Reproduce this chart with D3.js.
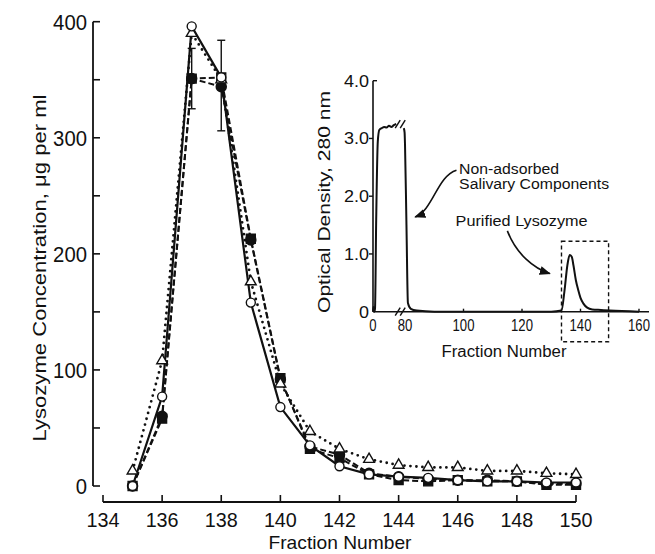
<!DOCTYPE html>
<html>
<head>
<meta charset="utf-8">
<script src="https://cdn.jsdelivr.net/npm/d3@7"></script>
<style>
  body { margin: 0; background: #fff; }
  svg { display: block; }
  text { font-family: "Liberation Sans", Arial, sans-serif; fill: #111; }
</style>
</head>
<body>
<div id="chart"></div>
<script>
// main plot: lysozyme per fraction
var fractions = [135, 136, 137, 138, 139, 140, 141, 142, 143, 144, 145, 146, 147, 148, 149, 150];
var openCircles   = [0, 77, 396, 352, 158, 68, 35, 17, 10, 8, 7, 5, 4, 4, 3, 3];
var openTriangles = [13, 108, 390, 350, 176, 88, 47, 32, 23, 18, 16, 16, 13, 13, 11, 10];
var filledCircles = [0, 60, 351, 344, 212, 92, 34, 27, 11, 8, 6, 5, 5, 4, 2, 2];
var filledSquares = [0, 58, 351, 352, 213, 93, 32, 24, 10, 5, 4, 5, 4, 4, 1, 1];

var errFractions = [137, 138];
var errLow  = [325, 306];
var errHigh = [377, 384];

var xTicks = [134, 136, 138, 140, 142, 144, 146, 148, 150];
var yTicks = [0, 100, 200, 300, 400];
var yMinorTicks = [50, 150, 250, 350];

// inset: optical density trace
var odFractions = [0, 1, 3, 5, 8, 12, 16, 22, 28, 34, 40, 46, 52, 58, 60, 77, 79, 80, 80.5, 81, 82, 84, 90, 110, 130, 133.5, 134.5, 135.5, 136.3, 137, 137.6, 138.4, 139.2, 140, 141, 142.3, 144, 147, 150, 160];
var odValues    = [0, 0.08, 0, 0.05, 1.6, 2.95, 3.15, 3.18, 3.2, 3.19, 3.22, 3.2, 3.23, 3.25, null, 3.18, 3.1, 2.9, 1.5, 0.15, 0.05, 0.02, 0, 0, 0, 0.02, 0.35, 0.8, 0.98, 0.95, 0.8, 0.55, 0.38, 0.24, 0.14, 0.07, 0.04, 0.03, 0.02, 0];
var insetXTicks = [0, 80, 100, 120, 140, 160];
var insetYTicks = [0, 1, 2, 3, 4];

var W = 655, H = 554;

var svg = d3.select("#chart").append("svg")
    .attr("width", W)
    .attr("height", H);

// text squeezed to the width it has in the figure
function label(sel, str, width){
    sel.text(str);
    if(width) sel.attr("textLength", width).attr("lengthAdjust", "spacingAndGlyphs");
    return sel;
}

var x = d3.scaleLinear().domain([134, 150]).range([103, 576]);
var y = d3.scaleLinear().domain([0, 400]).range([486, 21.7]);

// y axis (ticks point inward)
svg.append("line")
    .attr("x1", x(134) - 10).attr("x2", x(134) - 10)
    .attr("y1", y(400)).attr("y2", y(0))
    .attr("stroke", "#111").attr("stroke-width", 1.8);

svg.selectAll(".ytick")
    .data(yTicks.concat(yMinorTicks))
    .enter()
    .append("line")
    .attr("x1", x(134) - 10).attr("x2", x(134) - 3)
    .attr("y1", function(d){ return y(d); })
    .attr("y2", function(d){ return y(d); })
    .attr("stroke", "#111").attr("stroke-width", 1.6);

svg.selectAll(".ylab")
    .data(yTicks)
    .enter()
    .append("text")
    .attr("x", x(134) - 16)
    .attr("y", function(d){ return y(d) + 8; })
    .attr("text-anchor", "end")
    .style("font-size", "22px")
    .each(function(d){ label(d3.select(this), String(d), String(d).length * 11.3); });

// x axis, drawn below the plot
var xAxisY = 502;
svg.append("line")
    .attr("x1", x(134)).attr("x2", x(150))
    .attr("y1", xAxisY).attr("y2", xAxisY)
    .attr("stroke", "#111").attr("stroke-width", 1.8);

svg.selectAll(".xtick")
    .data(xTicks)
    .enter()
    .append("line")
    .attr("x1", function(d){ return x(d); })
    .attr("x2", function(d){ return x(d); })
    .attr("y1", xAxisY).attr("y2", xAxisY - 7)
    .attr("stroke", "#111").attr("stroke-width", 1.6);

svg.selectAll(".xlab")
    .data(xTicks)
    .enter()
    .append("text")
    .attr("x", function(d){ return x(d); })
    .attr("y", 527)
    .attr("text-anchor", "middle")
    .style("font-size", "21px")
    .each(function(d){ label(d3.select(this), String(d), 33); });

label(svg.append("text")
    .attr("x", 340)
    .attr("y", 549)
    .attr("text-anchor", "middle")
    .style("font-size", "19px"), "Fraction  Number", 143);

label(svg.append("text")
    .attr("transform", "translate(46,268) rotate(-90)")
    .attr("text-anchor", "middle")
    .style("font-size", "19px"), "Lysozyme  Concentration,  \u03bcg  per  ml", 347);

// series
var series = [
    {values: filledSquares, dash: "6,3", cap: "butt", width: 2},
    {values: filledCircles, dash: "6,3", cap: "butt", width: 2},
    {values: openTriangles, dash: "0,6", cap: "round", width: 2.8},
    {values: openCircles,   dash: null,  cap: "butt", width: 2.2}
];

var line = d3.line()
    .x(function(d){ return x(d[0]); })
    .y(function(d){ return y(d[1]); });

series.forEach(function(s){
    svg.append("path")
        .datum(d3.zip(fractions, s.values))
        .attr("d", line)
        .attr("fill", "none")
        .attr("stroke", "#111")
        .attr("stroke-width", s.width)
        .attr("stroke-linecap", s.cap)
        .attr("stroke-dasharray", s.dash);
});

// error bars
var errs = d3.zip(errFractions, errLow, errHigh);
var eb = svg.selectAll(".err").data(errs).enter().append("g");
eb.append("line")
    .attr("x1", function(d){ return x(d[0]); }).attr("x2", function(d){ return x(d[0]); })
    .attr("y1", function(d){ return y(d[1]); }).attr("y2", function(d){ return y(d[2]); })
    .attr("stroke", "#111").attr("stroke-width", 1.4);
[1, 2].forEach(function(k){
    eb.append("line")
        .attr("x1", function(d){ return x(d[0]) - 4; }).attr("x2", function(d){ return x(d[0]) + 4; })
        .attr("y1", function(d){ return y(d[k]); }).attr("y2", function(d){ return y(d[k]); })
        .attr("stroke", "#111").attr("stroke-width", 1.4);
});

// markers
function markers(values, type, size, fill){
    svg.selectAll(null)
        .data(d3.zip(fractions, values))
        .enter()
        .append("path")
        .attr("d", d3.symbol().type(type).size(size))
        .attr("transform", function(d){ return "translate(" + x(d[0]) + "," + y(d[1]) + ")"; })
        .attr("fill", fill)
        .attr("stroke", "#111")
        .attr("stroke-width", 1.4);
}
markers(filledSquares, d3.symbolSquare, 80, "#111");
markers(filledCircles, d3.symbolCircle, 80, "#111");
markers(openTriangles, d3.symbolTriangle, 50, "#fff");
markers(openCircles, d3.symbolCircle, 64, "#fff");

// ---- inset ----
var ix = d3.scaleLinear().domain([0, 80, 160]).range([373, 405, 639]);
var iy = d3.scaleLinear().domain([0, 4]).range([311.7, 80.7]);

svg.append("line")
    .attr("x1", ix(0)).attr("x2", ix(0))
    .attr("y1", iy(4)).attr("y2", iy(0))
    .attr("stroke", "#111").attr("stroke-width", 1.6);
svg.append("line")
    .attr("x1", ix(0)).attr("x2", ix(160) + 10)
    .attr("y1", iy(0)).attr("y2", iy(0))
    .attr("stroke", "#111").attr("stroke-width", 1.6);

svg.selectAll(".iytick")
    .data(insetYTicks.slice(1))
    .enter()
    .append("line")
    .attr("x1", function(d){ return d == 4 ? ix(0) + 4 : ix(0) - 4; })
    .attr("x2", ix(0))
    .attr("y1", function(d){ return iy(d); })
    .attr("y2", function(d){ return iy(d); })
    .attr("stroke", "#111").attr("stroke-width", 1.4);

svg.selectAll(".iylab")
    .data(insetYTicks)
    .enter()
    .append("text")
    .attr("x", ix(0) - 4)
    .attr("y", function(d){ return iy(d) + 6; })
    .attr("text-anchor", "end")
    .style("font-size", "17px")
    .each(function(d){
        var s = d == 0 ? "0" : d.toFixed(1);
        label(d3.select(this), s, d == 0 ? 10 : 25);
    });

svg.selectAll(".ixtick")
    .data(insetXTicks.slice(2))
    .enter()
    .append("line")
    .attr("x1", function(d){ return ix(d); })
    .attr("x2", function(d){ return ix(d); })
    .attr("y1", iy(0)).attr("y2", iy(0) - 3)
    .attr("stroke", "#111").attr("stroke-width", 1.4);

svg.selectAll(".ixlab")
    .data(insetXTicks)
    .enter()
    .append("text")
    .attr("x", function(d){ return ix(d); })
    .attr("y", iy(0) + 19)
    .attr("text-anchor", "middle")
    .style("font-size", "16px")
    .each(function(d){ label(d3.select(this), String(d), String(d).length * 7.3); });

label(svg.append("text")
    .attr("x", 504)
    .attr("y", 357)
    .attr("text-anchor", "middle")
    .style("font-size", "16px"), "Fraction  Number", 125);

label(svg.append("text")
    .attr("transform", "translate(330,202) rotate(-90)")
    .attr("text-anchor", "middle")
    .style("font-size", "16px"), "Optical  Density,  280 nm", 222);

var odLine = d3.line()
    .defined(function(d){ return d[1] !== null; })
    .x(function(d){ return ix(d[0]); })
    .y(function(d){ return iy(d[1]); })
    .curve(d3.curveMonotoneX);

svg.append("path")
    .datum(d3.zip(odFractions, odValues))
    .attr("d", odLine)
    .attr("fill", "none")
    .attr("stroke", "#111")
    .attr("stroke-width", 2);

// axis breaks "//"
function breakMark(cx, cy){
    [-2.5, 2.5].forEach(function(o){
        svg.append("line")
            .attr("x1", cx + o - 2.5).attr("y1", cy + 4)
            .attr("x2", cx + o + 2.5).attr("y2", cy - 4)
            .attr("stroke", "#111").attr("stroke-width", 1.4);
    });
}
breakMark(ix(68), iy(3.25));
breakMark(ix(68), iy(0));

// dashed box around the lysozyme peak
svg.append("rect")
    .attr("x", ix(133.5))
    .attr("y", iy(1.22))
    .attr("width", ix(149.6) - ix(133.5))
    .attr("height", iy(-0.52) - iy(1.22))
    .attr("fill", "none")
    .attr("stroke", "#111")
    .attr("stroke-width", 1.4)
    .attr("stroke-dasharray", "4,3");

// annotations
label(svg.append("text")
    .attr("x", ix(98.5)).attr("y", iy(2.39))
    .style("font-size", "14px"), "Non-adsorbed", 100);
label(svg.append("text")
    .attr("x", ix(98.5)).attr("y", iy(2.12))
    .style("font-size", "14px"), "Salivary  Components", 150);
label(svg.append("text")
    .attr("x", ix(97.3)).attr("y", iy(1.49))
    .style("font-size", "14px"), "Purified  Lysozyme", 132);

var defs = svg.append("defs");
defs.append("marker")
    .attr("id", "head")
    .attr("viewBox", "0 0 10 10")
    .attr("refX", 9).attr("refY", 5)
    .attr("markerWidth", 7).attr("markerHeight", 7)
    .attr("orient", "auto")
    .append("path")
    .attr("d", "M0,1 L10,5 L0,9 Z")
    .attr("fill", "#111");

function arrow(p){
    var pts = p.map(function(q){ return [ix(q[0]), iy(q[1])]; });
    svg.append("path")
        .attr("d", "M" + pts[0] + " C" + pts[1] + " " + pts[2] + " " + pts[3])
        .attr("fill", "none")
        .attr("stroke", "#111")
        .attr("stroke-width", 1.6)
        .attr("marker-end", "url(#head)");
}
arrow([[97.6, 2.45], [91, 2.35], [89.5, 1.75], [83.5, 1.64]]);
arrow([[115, 1.4], [118, 1.0], [124, 0.75], [129.5, 0.66]]);
</script>
</body>
</html>
